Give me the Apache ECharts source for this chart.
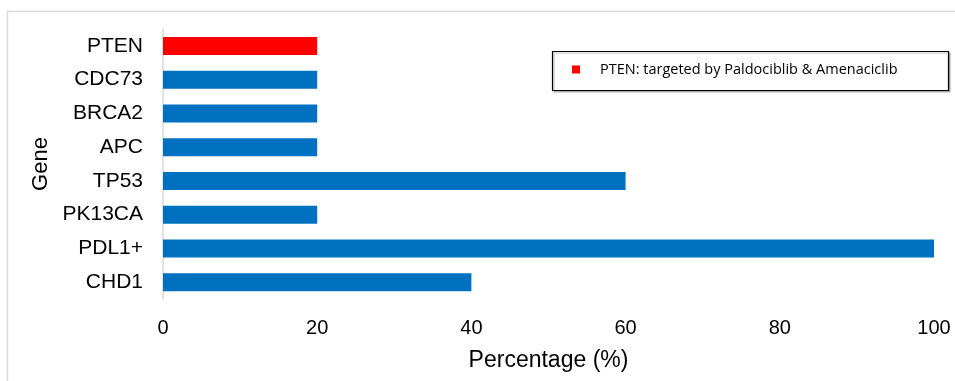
<!DOCTYPE html>
<html>
<head>
<meta charset="utf-8">
<script src="https://cdn.jsdelivr.net/npm/echarts@6/dist/echarts.min.js"></script>
<style>
  html, body { margin: 0; padding: 0; background: #fff; }
  #chart { width: 955px; height: 381px; }
</style>
</head>
<body>
<div id="chart"></div>
<script>
// Genes, listed bottom to top on the category axis
const genes = ['CHD1', 'PDL1+', 'PK13CA', 'TP53', 'APC', 'BRCA2', 'CDC73', 'PTEN'];
// Percentage of samples with an alteration in each gene
const percentages = [40, 100, 20, 60, 20, 20, 20, 20];
// Gene highlighted as a drug target
const targetedGene = 'PTEN';
const targetedLabel = 'PTEN: targeted by Paldociblib & Amenaciclib';
// x axis ticks
const xTicks = [0, 20, 40, 60, 80, 100];

const blue = '#0070c0';
const red = '#ff0000';

const otherValues = percentages.map((v, i) => genes[i] === targetedGene ? '-' : v);
const targetValues = percentages.map((v, i) => genes[i] === targetedGene ? v : '-');

const chart = echarts.init(document.getElementById('chart'), null, { renderer: 'canvas' });

chart.setOption({
  animation: false,
  backgroundColor: '#fff',
  textStyle: { fontFamily: 'Liberation Sans, Arial, sans-serif' },
  grid: { left: 163, right: 21, top: 29, bottom: 82, containLabel: false },
  graphic: [
    {
      type: 'rect', silent: true, z: -1,
      shape: { x: 7.5, y: 11.5, width: 980, height: 400 },
      style: { fill: 'none', stroke: '#d9d9d9', lineWidth: 1.5 }
    },
    {
      type: 'rect', silent: true,
      shape: { x: 552.5, y: 51.5, width: 396, height: 39 },
      style: { fill: '#fff', stroke: '#000', lineWidth: 1.2, shadowColor: 'rgba(0,0,0,0.25)', shadowOffsetX: 1.5, shadowOffsetY: 1.5, shadowBlur: 1 }
    }
  ],
  legend: {
    data: [targetedLabel],
    left: 572,
    top: 62,
    padding: 0,
    itemWidth: 8,
    itemHeight: 8,
    icon: 'rect',
    z: 10,
    textStyle: {
      fontFamily: 'Open Sans',
      fontSize: 14.5,
      color: '#000',
      padding: [0, 0, 0, 15]
    }
  },
  xAxis: {
    type: 'value',
    min: 0,
    max: 100,
    interval: 20,
    name: 'Percentage (%)',
    nameLocation: 'middle',
    nameGap: 50,
    nameTextStyle: { fontSize: 23, color: '#000' },
    axisLine: { show: false },
    axisTick: { show: false },
    splitLine: { show: false },
    axisLabel: {
      fontSize: 20, color: '#000', margin: 19,
      customValues: xTicks
    }
  },
  yAxis: {
    type: 'category',
    data: genes,
    name: 'Gene',
    nameLocation: 'middle',
    nameGap: 111,
    nameRotate: 90,
    nameTextStyle: { fontSize: 22, color: '#000' },
    axisLine: { show: true, lineStyle: { color: '#d9d9d9', width: 1.5 } },
    axisTick: { show: false },
    axisLabel: { fontSize: 21, color: '#000', margin: 20 }
  },
  series: [
    {
      name: 'Altered genes',
      type: 'bar',
      stack: 'pct',
      data: otherValues,
      barWidth: 18,
      itemStyle: { color: blue }
    },
    {
      name: targetedLabel,
      type: 'bar',
      stack: 'pct',
      data: targetValues,
      barWidth: 18,
      itemStyle: { color: red }
    }
  ]
});
</script>
</body>
</html>
